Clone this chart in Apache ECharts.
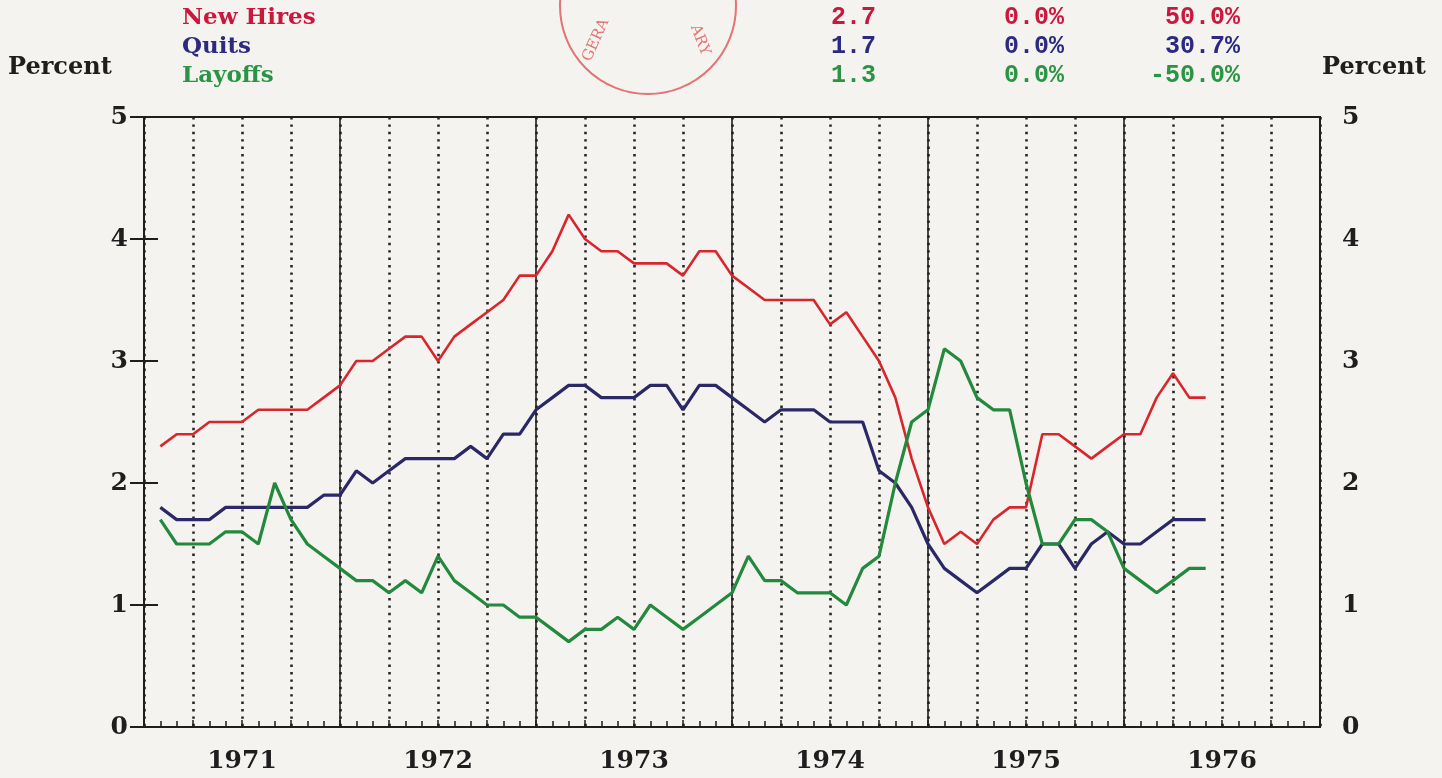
<!DOCTYPE html>
<html>
<head>
<meta charset="utf-8">
<script src="https://cdn.jsdelivr.net/npm/echarts@6/dist/echarts.min.js"></script>
<style>
  html, body { margin: 0; background: #f5f3ef; }
  #chart { width: 1442px; height: 778px; }
</style>
</head>
<body>
<div id="chart"></div>
<script>
// monthly rates, Jan 1971 .. May 1976 (plotted at month end)
const years = ['1971', '1972', '1973', '1974', '1975', '1976'];
const newHires = [2.3, 2.4, 2.4, 2.5, 2.5, 2.5, 2.6, 2.6, 2.6, 2.6, 2.7, 2.8,
  3.0, 3.0, 3.1, 3.2, 3.2, 3.0, 3.2, 3.3, 3.4, 3.5, 3.7, 3.7,
  3.9, 4.2, 4.0, 3.9, 3.9, 3.8, 3.8, 3.8, 3.7, 3.9, 3.9, 3.7,
  3.6, 3.5, 3.5, 3.5, 3.5, 3.3, 3.4, 3.2, 3.0, 2.7, 2.2, 1.8,
  1.5, 1.6, 1.5, 1.7, 1.8, 1.8, 2.4, 2.4, 2.3, 2.2, 2.3, 2.4,
  2.4, 2.7, 2.9, 2.7, 2.7];
const quits = [1.8, 1.7, 1.7, 1.7, 1.8, 1.8, 1.8, 1.8, 1.8, 1.8, 1.9, 1.9,
  2.1, 2.0, 2.1, 2.2, 2.2, 2.2, 2.2, 2.3, 2.2, 2.4, 2.4, 2.6,
  2.7, 2.8, 2.8, 2.7, 2.7, 2.7, 2.8, 2.8, 2.6, 2.8, 2.8, 2.7,
  2.6, 2.5, 2.6, 2.6, 2.6, 2.5, 2.5, 2.5, 2.1, 2.0, 1.8, 1.5,
  1.3, 1.2, 1.1, 1.2, 1.3, 1.3, 1.5, 1.5, 1.3, 1.5, 1.6, 1.5,
  1.5, 1.6, 1.7, 1.7, 1.7];
const layoffs = [1.7, 1.5, 1.5, 1.5, 1.6, 1.6, 1.5, 2.0, 1.7, 1.5, 1.4, 1.3,
  1.2, 1.2, 1.1, 1.2, 1.1, 1.4, 1.2, 1.1, 1.0, 1.0, 0.9, 0.9,
  0.8, 0.7, 0.8, 0.8, 0.9, 0.8, 1.0, 0.9, 0.8, 0.9, 1.0, 1.1,
  1.4, 1.2, 1.2, 1.1, 1.1, 1.1, 1.0, 1.3, 1.4, 2.0, 2.5, 2.6,
  3.1, 3.0, 2.7, 2.6, 2.6, 2.0, 1.5, 1.5, 1.7, 1.7, 1.6, 1.3,
  1.2, 1.1, 1.2, 1.3, 1.3];
const latest = ['2.7', '1.7', '1.3'];
const lastMonth = ['0.0%', '0.0%', '0.0%'];
const yearAgo = ['50.0%', '30.7%', '-50.0%'];
const names = ['New Hires', 'Quits', 'Layoffs'];

const lineColors = ['#d8262c', '#2b2868', '#23893c'];
const textColors = ['#c8183c', '#2c2a80', '#2a9444'];
const serif = '"DejaVu Serif", "Liberation Serif", serif';
const mono = '"Liberation Mono", "DejaVu Sans Mono", monospace';
const ink = '#1e1e1e';

const toPoints = arr => arr.map((v, i) => [i + 1, v]);

const chart = echarts.init(document.getElementById('chart'));

const tickLabel = { fontSize: 25, fontFamily: serif, fontWeight: 'bold', color: ink };
const yAxisBase = {
  type: 'value', min: 0, max: 5, interval: 1,
  axisLine: { show: true, lineStyle: { color: ink, width: 2 } },
  axisTick: { show: true, length: 14, lineStyle: { color: ink, width: 2 } },
  splitLine: { show: false }
};

const rows = [18, 47, 76];
const graphic = [
  { type: 'text', x: 8, y: 68, style: { text: 'Percent', font: 'bold 24px ' + serif, fill: ink, textVerticalAlign: 'middle' } },
  { type: 'text', x: 1322, y: 68, style: { text: 'Percent', font: 'bold 24px ' + serif, fill: ink, textVerticalAlign: 'middle' } },
  { type: 'circle', shape: { cx: 648, cy: 6, r: 88 }, style: { fill: 'none', stroke: '#e27474', lineWidth: 2 } },
  { type: 'text', x: 596, y: 40, rotation: 1.15, style: { text: 'GERA', font: '15px ' + serif, fill: '#e27474', textAlign: 'center', textVerticalAlign: 'middle' } },
  { type: 'text', x: 700, y: 40, rotation: -1.2, style: { text: 'ARY', font: '15px ' + serif, fill: '#e27474', textAlign: 'center', textVerticalAlign: 'middle' } }
];
names.forEach((n, i) => {
  graphic.push({ type: 'text', x: 182, y: rows[i], style: { text: n, font: 'bold 23px ' + serif, fill: textColors[i], textVerticalAlign: 'middle' } });
  graphic.push({ type: 'text', x: 876, y: rows[i], style: { text: latest[i], font: 'bold 25px ' + mono, fill: textColors[i], textAlign: 'right', textVerticalAlign: 'middle' } });
  graphic.push({ type: 'text', x: 1064, y: rows[i], style: { text: lastMonth[i], font: 'bold 25px ' + mono, fill: textColors[i], textAlign: 'right', textVerticalAlign: 'middle' } });
  graphic.push({ type: 'text', x: 1240, y: rows[i], style: { text: yearAgo[i], font: 'bold 25px ' + mono, fill: textColors[i], textAlign: 'right', textVerticalAlign: 'middle' } });
});

const option = {
  backgroundColor: '#f5f3ef',
  animation: false,
  grid: { left: 144, right: 122, top: 117, bottom: 51, show: true, borderColor: ink, borderWidth: 2, backgroundColor: 'transparent' },
  xAxis: [
    {
      type: 'value', min: 0, max: 72, interval: 3, position: 'bottom', offset: 0,
      axisLine: { show: true, lineStyle: { color: ink, width: 2 } },
      axisTick: { show: true, inside: true, length: 7, lineStyle: { color: ink, width: 1.5 } },
      minorTick: { show: true, splitNumber: 3, length: 6, lineStyle: { color: ink, width: 1.5 } },
      axisLabel: { show: false },
      splitLine: { show: true, lineStyle: { color: '#262626', width: 2.6, type: [2.4, 5] } }
    },
    {
      type: 'value', min: 0, max: 72, interval: 12, position: 'bottom', offset: 0,
      axisLine: { show: false }, axisTick: { show: false }, axisLabel: { show: false },
      splitLine: { show: true, lineStyle: { color: ink, width: 1.6 } }
    },
    {
      type: 'value', min: 0, max: 72, interval: 6, position: 'bottom', offset: 0,
      axisLine: { show: false }, axisTick: { show: false }, splitLine: { show: false },
      axisLabel: Object.assign({}, tickLabel, {
        margin: 22,
        formatter: v => (v % 12 === 6 ? years[(v - 6) / 12] : '')
      })
    }
  ],
  yAxis: [
    Object.assign({}, yAxisBase, { position: 'left', axisLabel: Object.assign({}, tickLabel, { margin: 16 }) }),
    Object.assign({}, yAxisBase, { position: 'right', axisLabel: Object.assign({}, tickLabel, { margin: 22 }) })
  ],
  graphic: graphic,
  series: [newHires, quits, layoffs].map((arr, i) => ({
    name: names[i],
    type: 'line',
    xAxisIndex: 0,
    yAxisIndex: 0,
    data: toPoints(arr),
    showSymbol: false,
    lineStyle: { color: lineColors[i], width: i === 0 ? 2.6 : 3.2 },
    z: 5 + i
  }))
};
chart.setOption(option);
</script>
</body>
</html>
